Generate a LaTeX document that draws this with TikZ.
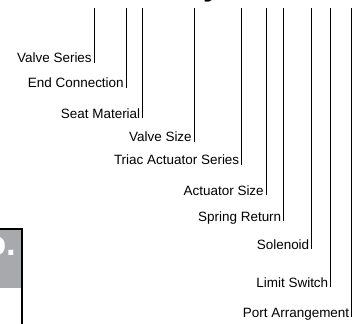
\documentclass[tikz,border=0pt]{standalone}
\usepackage{fontspec}
\setmainfont{Liberation Sans}
\usepackage{xcolor}
\definecolor{codegray}{HTML}{A7A9AC}
\usetikzlibrary{positioning}

\begin{document}
\begin{tikzpicture}[
    x=0.75pt, y=-0.75pt,
    lbl/.style={anchor=base east, inner xsep=1.5pt, inner ysep=0pt, font=\fontsize{10.1}{12}\selectfont},
    lead/.style={line width=0.75pt, black}
]
\useasboundingbox (0,0) rectangle (360,324);
% title above, cut by the page edge
\node[anchor=base, inner sep=0pt, font=\bfseries\fontsize{24}{26}\selectfont] (title) at (212,-4.5) {y};
% code box at the left edge
\fill[codegray] (0,229) rectangle (22,288);
\node[anchor=base east, inner sep=0pt, text=white, font=\bfseries\fontsize{26}{28}\selectfont] (no) at (16.3,255) {No.};
\draw[line width=1.2pt] (0,229) -| (22,324);
% tops of the leaders
\coordinate (t-series) at (94,8);
\coordinate (t-end) at (126,8);
\coordinate (t-seat) at (142.5,8);
\coordinate (t-size) at (194,8);
\coordinate (t-triac) at (241.5,8);
\coordinate (t-act) at (266,8);
\coordinate (t-spring) at (283.5,8);
\coordinate (t-sol) at (311.5,8);
\coordinate (t-limit) at (330.5,8);
\coordinate (t-port) at (351.5,8);
% labels
\node[lbl] (series) at (94,63) {Valve Series};
\node[lbl] (end) at (126,88) {End Connection};
\node[lbl] (seat) at (142.5,118) {Seat Material};
\node[lbl] (size) at (194,142) {Valve Size};
\node[lbl] (triac) at (241.5,165) {Triac Actuator Series};
\node[lbl] (act) at (266,195) {Actuator Size};
\node[lbl] (spring) at (283.5,221) {Spring Return};
\node[lbl] (sol) at (311.5,249) {Solenoid};
\node[lbl] (limit) at (330.5,287) {Limit Switch};
\node[lbl] (port) at (351.5,317) {Port Arrangement};
% leaders
\draw[lead] (t-series) -- (t-series |- series.base);
\draw[lead] (t-end) -- (t-end |- end.base);
\draw[lead] (t-seat) -- (t-seat |- seat.base);
\draw[lead] (t-size) -- (t-size |- size.base);
\draw[lead] (t-triac) -- (t-triac |- triac.base);
\draw[lead] (t-act) -- (t-act |- act.base);
\draw[lead] (t-spring) -- (t-spring |- spring.base);
\draw[lead] (t-sol) -- (t-sol |- sol.base);
\draw[lead] (t-limit) -- (t-limit |- limit.base);
\draw[lead] (t-port) -- (t-port |- port.base);
\end{tikzpicture}
\end{document}
